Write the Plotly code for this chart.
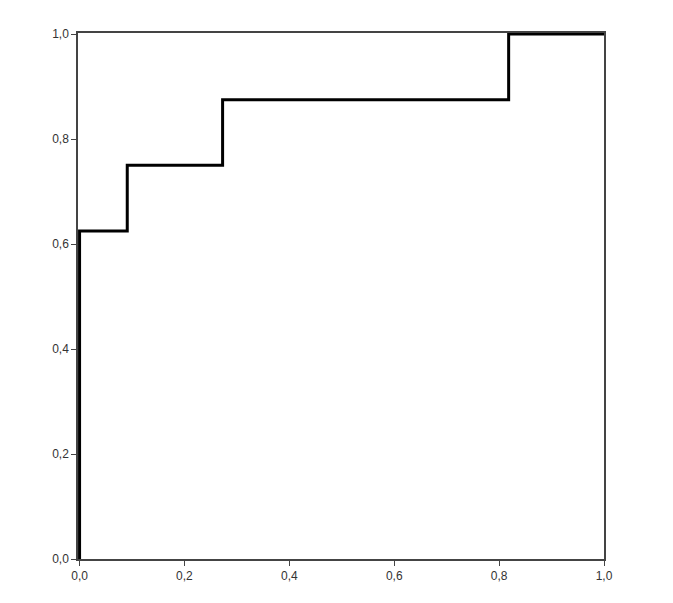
import plotly.graph_objects as go

# step curve points (false positive rate vs true positive rate)
fpr = [0.0, 0.0, 1 / 11, 3 / 11, 9 / 11, 1.0]
tpr = [0.0, 0.625, 0.75, 0.875, 1.0, 1.0]
tick_vals = [0.0, 0.2, 0.4, 0.6, 0.8, 1.0]

fig = go.Figure(go.Scatter(
    x=fpr, y=tpr, mode="lines", line_shape="hv", cliponaxis=False,
    line={"color": "#000000", "width": 3}, showlegend=False,
))

axis_style = dict(
    tickvals=tick_vals, tickformat=".1f",
    showgrid=False, zeroline=False, layer="below traces",
    showline=True, linecolor="#444444", linewidth=1.5, mirror=True,
    ticks="outside", ticklen=5, tickcolor="#444444", tickwidth=1,
    tickfont={"size": 12, "color": "#333333"},
)

fig.update_xaxes(range=[-0.003, 1], **axis_style)
fig.update_yaxes(range=[0, 1.002], **axis_style)

fig.update_layout(
    width=673, height=603,
    margin={"l": 70, "r": 77, "t": 25, "b": 52},
    paper_bgcolor="white", plot_bgcolor="white",
    separators=", ",
    font={"family": "Liberation Sans, Arial, sans-serif"},
)

fig.write_html("out.html")
